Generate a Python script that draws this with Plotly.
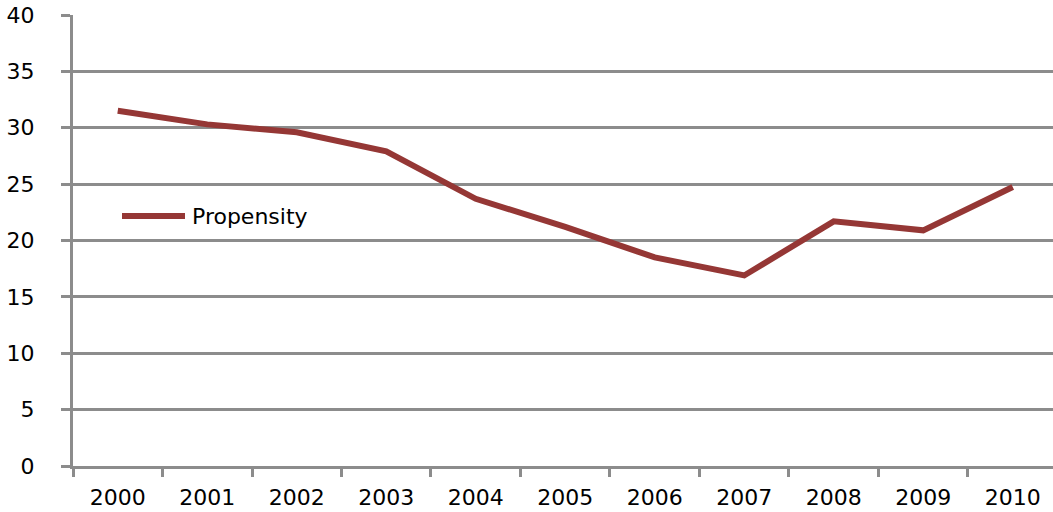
import plotly.graph_objects as go

years = ["2000", "2001", "2002", "2003", "2004", "2005", "2006", "2007", "2008", "2009", "2010"]
propensity = [31.5, 30.3, 29.6, 27.9, 23.7, 21.2, 18.5, 16.9, 21.7, 20.9, 24.75]
series_name = "Propensity"
y_ticks = [0, 5, 10, 15, 20, 25, 30, 35, 40]

LINE_COLOR = "#953735"
GRID_COLOR = "#8c8c8c"
FONT = dict(family="DejaVu Sans", size=22, color="#000000")

fig = go.Figure()
fig.add_trace(go.Scatter(
    x=years, y=propensity, mode="lines", name=series_name,
    line=dict(color=LINE_COLOR, width=6), showlegend=False,
))

W, H = 1053, 512
ml, mr, mt, mb = 73, 0, 15, 46

fig.update_layout(
    width=W, height=H,
    margin=dict(l=ml, r=mr, t=mt, b=mb, pad=0),
    paper_bgcolor="white", plot_bgcolor="white",
    font=FONT,
    xaxis=dict(
        type="category", tickson="boundaries", ticks="outside", ticklen=8,
        tickwidth=3, tickcolor=GRID_COLOR, showgrid=False,
        showline=True, linecolor=GRID_COLOR, linewidth=3,
        range=[-0.5, len(years) - 0.55], tickfont=FONT, ticklabelstandoff=10,
    ),
    yaxis=dict(
        range=[0, 40], tickvals=y_ticks, ticks="outside", ticklen=9,
        tickwidth=3, tickcolor=GRID_COLOR, showgrid=True, gridcolor=GRID_COLOR,
        gridwidth=3, showline=True, linecolor=GRID_COLOR, linewidth=3,
        zeroline=False, tickfont=FONT, ticklabelstandoff=22,
    ),
)

# manual legend (line sample + label), placed in pixel terms of the plot area
pw = W - ml - mr
ph = H - mt - mb
lx0 = (122 - ml) / pw
lx1 = (185 - ml) / pw
ly = 1 - (216 - mt) / ph
fig.add_shape(type="line", xref="paper", yref="paper", x0=lx0, x1=lx1, y0=ly, y1=ly,
              line=dict(color=LINE_COLOR, width=6))
fig.add_annotation(xref="paper", yref="paper", x=(190 - ml) / pw, y=ly, text=series_name,
                   showarrow=False, xanchor="left", yanchor="middle", font=FONT)

fig.write_html("out.html")
